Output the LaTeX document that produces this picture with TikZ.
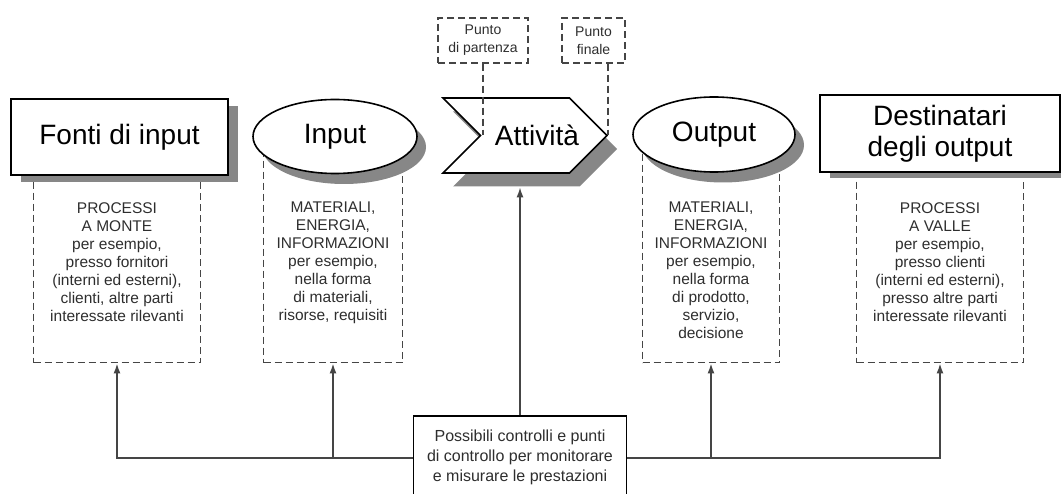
\documentclass[tikz,border=0pt]{standalone}
\usepackage{fontspec}
\setmainfont{Liberation Sans}
\setsansfont{Liberation Sans}
\usetikzlibrary{arrows.meta,positioning,calc,shapes.geometric,shapes.symbols}
\definecolor{inkgray}{HTML}{2E2E2E}
\definecolor{lingray}{HTML}{454545}
\definecolor{shadegray}{HTML}{878787}

\begin{document}
\begin{tikzpicture}[
  x=1pt, y=-1pt,
  font=\sffamily,
  shadowcopy/.style = {fill=shadegray, draw=none},
  srcbox/.style  = {draw=black, fill=white, line width=1.6pt, align=center,
                    font=\sffamily\fontsize{28}{31}\selectfont, inner sep=0pt},
  flowell/.style = {ellipse, draw=black, fill=white, line width=1.6pt,
                    font=\sffamily\fontsize{28}{31}\selectfont, inner sep=0pt},
  actsig/.style  = {signal, signal to=east, signal from=west, signal pointer angle=90,
                    draw=black, fill=white, line width=1.6pt, inner sep=0pt},
  column/.style  = {draw=lingray, dash pattern=on 7pt off 4pt, line width=1.4pt,
                    anchor=north, minimum height=226pt},
  coltxt/.style  = {text=inkgray, align=center, inner sep=0pt,
                    font=\sffamily\fontsize{15.5}{18}\selectfont},
  markbox/.style = {draw=lingray, dash pattern=on 7pt off 4pt, line width=1.4pt,
                    align=center, minimum height=45pt, inner sep=0pt, text=inkgray,
                    font=\sffamily\fontsize{14}{18}\selectfont},
  guide/.style   = {draw=lingray, dash pattern=on 7pt off 4pt, line width=1.4pt},
  ctlbox/.style  = {draw=black, fill=white, line width=1.6pt, align=center, anchor=north,
                    minimum width=213pt, minimum height=84pt, text=inkgray,
                    font=\sffamily\fontsize{16}{20}\selectfont},
  ln/.style      = {-{Latex[length=10pt,width=7pt]}, draw=lingray, line width=1.6pt},
]
\useasboundingbox (0,0) rectangle (1061,494);

% --- the dashed columns, drawn first so that the heads cover their tops --------------------------
\node[column, minimum width=167pt] (col1) at (117,136) {};
\node[column, minimum width=139pt] (col2) at (333,136) {};
\node[column, minimum width=137pt] (col4) at (711,136) {};
\node[column, minimum width=167pt] (col5) at (940,136) {};

\node[coltxt, below=66pt of col1.north] (txt1)
  {PROCESSI\\A MONTE\\per esempio,\\presso fornitori\\(interni ed esterni),\\clienti, altre parti\\interessate rilevanti};
\node[coltxt, below=66pt of col2.north] (txt2)
  {MATERIALI,\\ENERGIA,\\INFORMAZIONI\\per esempio,\\nella forma\\di materiali,\\risorse, requisiti};
\node[coltxt, below=66pt of col4.north] (txt4)
  {MATERIALI,\\ENERGIA,\\INFORMAZIONI\\per esempio,\\nella forma\\di prodotto,\\servizio,\\decisione};
\node[coltxt, below=66pt of col5.north] (txt5)
  {PROCESSI\\A VALLE\\per esempio,\\presso clienti\\(interni ed esterni),\\presso altre parti\\interessate rilevanti};

% --- the row of heads, each over its grey shadow -----------------------------------------------------
\node[srcbox,  shadowcopy, minimum width=217pt, minimum height=76pt] (fonti-sh) at (129.5,144) {};
\node[srcbox,  minimum width=217pt, minimum height=76pt] (fonti) at (119.5,137)   {Fonti di input};

\node[flowell, shadowcopy, minimum width=164pt, minimum height=74pt] (inp-sh)   at (344,147) {};
\node[flowell, minimum width=164pt, minimum height=74pt] (inp)   at (335,136.5)   {Input};

\node[actsig,  shadowcopy, minimum width=164pt, minimum height=75pt] (act-sh)   at (535,149) {};
\node[actsig,  minimum width=164pt, minimum height=75pt,
      label={[xshift=12pt, font=\sffamily\fontsize{28}{31}\selectfont]center:Attività}]
                                                         (act)   at (525,135.5)   {};

\node[flowell, shadowcopy, minimum width=162pt, minimum height=75pt] (outp-sh)  at (723,145) {};
\node[flowell, minimum width=162pt, minimum height=75pt] (outp)  at (714,134.5)   {Output};

\node[srcbox,  shadowcopy, minimum width=240pt, minimum height=77pt] (dest-sh)  at (950,139.5) {};
\node[srcbox,  minimum width=240pt, minimum height=77pt] (dest)  at (940,133.5)   {Destinatari\\degli output};

% --- start and end of the activity --------------------------------------------------------------------
\node[markbox, minimum width=90pt] (start)  at (483,40.5)   {Punto\\di partenza};
\node[markbox, minimum width=63pt] (finish) at (593.5,40.5) {Punto\\finale};
\draw[guide] (start.south) -- (start.south |- act.center);
\draw[guide] (act.east |- finish.south) -- (act.east);

% --- the controls, and what they reach ------------------------------------------------------------
\node[ctlbox] (ctrl) at (520,415)
  {Possibili controlli e punti\\di controllo per monitorare\\e misurare le prestazioni};

\draw[ln] (ctrl.west) -| (col1.south);
\draw[ln] (ctrl.east) -| (col5.south);
\draw[ln] (col2.south |- ctrl.west) -- (col2.south);
\draw[ln] (col4.south |- ctrl.east) -- (col4.south);
\draw[ln] (ctrl.north) -- (ctrl.north |- act-sh.south);

\end{tikzpicture}
\end{document}
